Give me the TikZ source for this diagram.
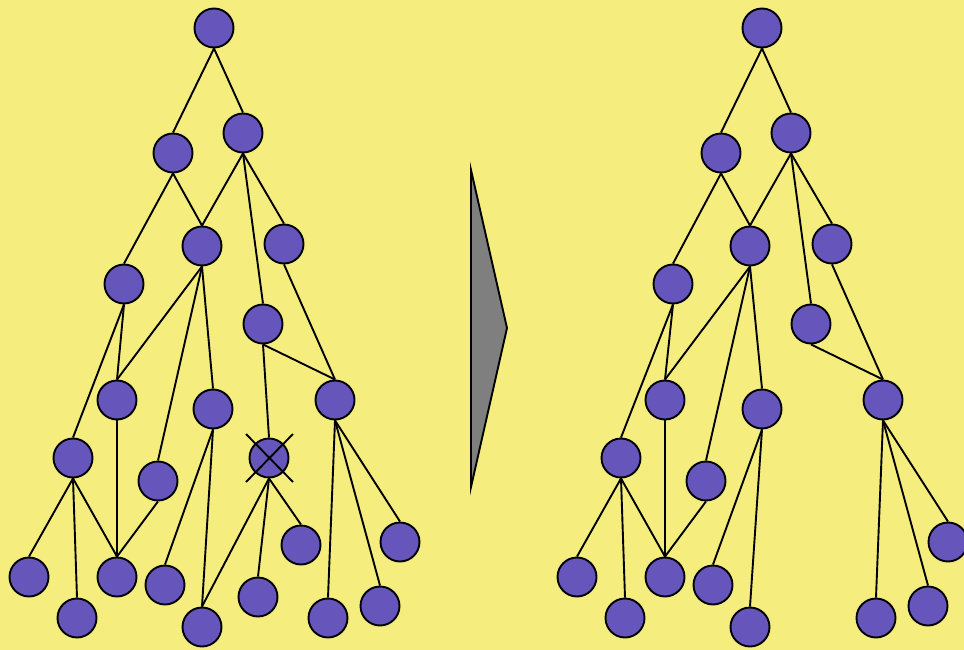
\documentclass[tikz,border=0pt]{standalone}
\definecolor{bgyellow}{HTML}{F5EE7E}
\definecolor{nodeblue}{HTML}{6655BB}
\definecolor{arrowgray}{HTML}{7F7F7F}
\begin{document}
\begin{tikzpicture}[x=1pt,y=-1pt,
  vert/.style={circle,draw=black,line width=1.9pt,fill=nodeblue,minimum size=39pt,inner sep=0pt},
  edge/.style={line width=1.9pt,black}]
\fill[bgyellow] (0,0) rectangle (964,650);
\useasboundingbox (0,0) rectangle (964,650);

% ---- left tree ----
\foreach \n/\x/\y in {a1/214/28, a2/173/153, a3/243/133, a4/124/284, a5/202/246,
  a6/284/244, a7/263/324, a8/117/400, a9/213/409, a10/335/400, a11/73/458,
  a12/158/481, a13/269/458, a14/29/577, a15/77/618, a16/117/577, a17/165/585,
  a18/202/627, a19/258/597, a20/301/545, a21/328/618, a22/380/606, a23/400/542}
  \node[vert] (n\n) at (\x,\y) {};
\foreach \u/\v in {a1/a2, a1/a3, a2/a4, a2/a5, a3/a5, a3/a7, a3/a6, a4/a8, a4/a11,
  a5/a8, a5/a12, a5/a9, a6/a10, a7/a10, a7/a13, a8/a16, a11/a14, a11/a15, a11/a16,
  a12/a16, a9/a17, a9/a18, a13/a18, a13/a19, a13/a20, a10/a21, a10/a22, a10/a23}
  \draw[edge] (n\u.south) -- (n\v.north);
% removed vertex mark
\coordinate (xa) at (246,434); \coordinate (xb) at (293,482);
\coordinate (xc) at (293,434); \coordinate (xd) at (246,482);
\draw[edge] (xa) -- (xb);
\draw[edge] (xc) -- (xd);

% ---- transformation arrow ----
\coordinate (p1) at (471,170); \coordinate (p2) at (507,328); \coordinate (p3) at (471,487);
\draw[line width=1.9pt,fill=arrowgray,line join=miter] (p1) -- (p2) -- (p3) -- cycle;

% ---- right tree ----
\foreach \n/\x/\y in {b1/762/28, b2/721/153, b3/791/133, b4/673/284, b5/750/246,
  b6/832/244, b7/811/324, b8/665/400, b9/762/409, b10/883/400, b11/621/458,
  b12/706/481, b14/577/577, b15/625/618, b16/665/577, b17/713/585,
  b18/750/627, b21/876/618, b22/928/606, b23/948/542}
  \node[vert] (n\n) at (\x,\y) {};
\foreach \u/\v in {b1/b2, b1/b3, b2/b4, b2/b5, b3/b5, b3/b7, b3/b6, b4/b8, b4/b11,
  b5/b8, b5/b12, b5/b9, b6/b10, b7/b10, b8/b16, b11/b14, b11/b15, b11/b16,
  b12/b16, b9/b17, b9/b18, b10/b21, b10/b22, b10/b23}
  \draw[edge] (n\u.south) -- (n\v.north);
\end{tikzpicture}
\end{document}
